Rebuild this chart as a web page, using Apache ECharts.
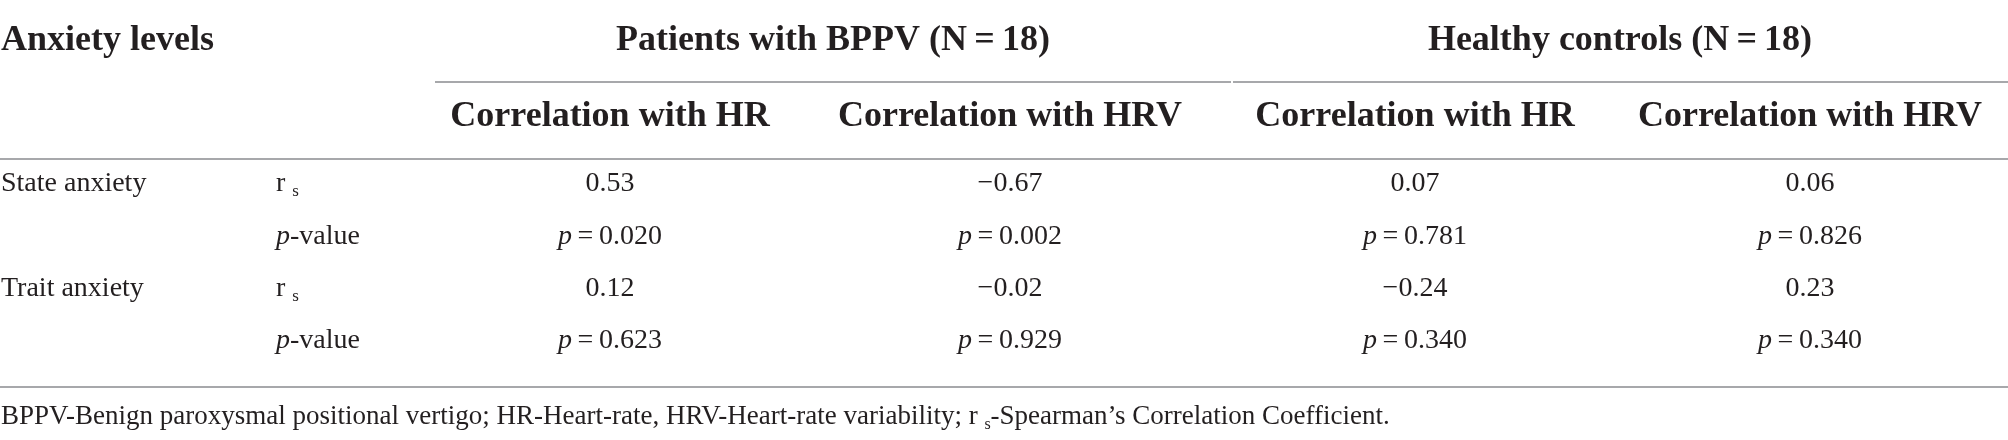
<!DOCTYPE html>
<html>
<head>
<meta charset="utf-8">
<script src="https://cdn.jsdelivr.net/npm/echarts@6/dist/echarts.min.js"></script>
<style>
  html, body { margin: 0; padding: 0; background: #fff; }
  #main { width: 2008px; height: 440px; }
</style>
</head>
<body>
<div id="main"></div>
<script>
// table content
var cornerHead = 'Anxiety levels';
var groupHeads = ['Patients with BPPV (N\u2009=\u200918)', 'Healthy controls (N\u2009=\u200918)'];
var colHeads = ['Correlation with HR', 'Correlation with HRV', 'Correlation with HR', 'Correlation with HRV'];
var measures = ['State anxiety', 'Trait anxiety'];
var stateRs = [0.53, -0.67, 0.07, 0.06];
var stateP = [0.020, 0.002, 0.781, 0.826];
var traitRs = [0.12, -0.02, -0.24, 0.23];
var traitP = [0.623, 0.929, 0.340, 0.340];
var notePre = 'BPPV-Benign paroxysmal positional vertigo; HR-Heart-rate, HRV-Heart-rate variability; r ';
var notePost = '-Spearman\u2019s Correlation Coefficient.';

// layout (axis units = px of the picture)
var W = 2008, H = 440;
var colX = [610, 1010, 1415, 1810];
var groupX = [833, 1620];
var labelX = 1, statX = 276;
var headY = 53, subY = 129, rowY = [193, 246, 298, 350], noteY = 426;
var ink = '#231f20';
var ruleColor = '#a7a8ab';
var serif = '"Liberation Serif", "Times New Roman", serif';

var ctx = document.createElement('canvas').getContext('2d');
function textWidth(str, size, weight) {
    ctx.font = (weight || 'normal') + ' ' + size + 'px ' + serif;
    return ctx.measureText(str).width;
}

function fmtR(v) {
    return (v < 0 ? '\u2212' : '') + Math.abs(v).toFixed(2);
}
function fmtP(v) {
    return '{i|p}\u2009=\u2009' + v.toFixed(3);
}

// cells: [x, baseline y] + what to write
var cells = [];
cells.push({ x: labelX, y: headY, text: cornerHead, size: 36, bold: true, align: 'left' });
groupHeads.forEach(function (g, i) {
    cells.push({ x: groupX[i], y: headY, text: g, size: 36, bold: true, align: 'center' });
});
colHeads.forEach(function (c, i) {
    cells.push({ x: colX[i], y: subY, text: c, size: 36, bold: true, align: 'center' });
});
var blocks = [[stateRs, stateP], [traitRs, traitP]];
measures.forEach(function (m, k) {
    var yR = rowY[k * 2], yP = rowY[k * 2 + 1];
    cells.push({ x: labelX, y: yR, text: m, size: 28, align: 'left' });
    cells.push({ x: statX, y: yR, text: 'r', sub: 's', size: 28, align: 'left' });
    cells.push({ x: statX, y: yP, text: '{i|p}-value', size: 28, align: 'left' });
    blocks[k][0].forEach(function (v, i) {
        cells.push({ x: colX[i], y: yR, text: fmtR(v), size: 28, align: 'center' });
    });
    blocks[k][1].forEach(function (v, i) {
        cells.push({ x: colX[i], y: yP, text: fmtP(v), size: 28, align: 'center' });
    });
});
cells.push({ x: labelX, y: noteY, text: notePre, sub: 's', post: notePost, size: 27, align: 'left' });

// rules: [x1, y, x2]
var rules = [
    [435, 82, 1231],
    [1233, 82, W],
    [0, 159, W],
    [0, 387, W]
];

function textEl(x, y, str, size, bold, align) {
    return {
        type: 'text',
        x: x,
        y: y - size * 0.34,
        style: {
            text: str,
            fill: ink,
            font: (bold ? 'bold ' : '') + size + 'px ' + serif,
            align: align,
            verticalAlign: 'middle',
            rich: {
                i: { fontStyle: 'italic', fontSize: size, fontFamily: serif, fill: ink }
            }
        }
    };
}

function renderCell(params, api) {
    var c = cells[params.dataIndex];
    var pt = api.coord([api.value(0), api.value(1)]);
    var main = textEl(pt[0], pt[1], c.text, c.size, c.bold, c.align);
    if (!c.sub) return main;
    var children = [main];
    var x = pt[0] + textWidth(c.text + (c.post ? '' : ' '), c.size);
    var subSize = Math.round(c.size * 0.6);
    children.push(textEl(x, pt[1] + 4, c.sub, subSize, false, 'left'));
    if (c.post) {
        x += textWidth(c.sub, subSize);
        children.push(textEl(x, pt[1], c.post, c.size, false, 'left'));
    }
    return { type: 'group', children: children };
}

function renderRule(params, api) {
    var a = api.coord([api.value(0), api.value(1)]);
    var b = api.coord([api.value(2), api.value(1)]);
    return {
        type: 'line',
        shape: { x1: a[0], y1: a[1], x2: b[0], y2: b[1] },
        style: { stroke: ruleColor, lineWidth: 2 }
    };
}

var myChart = echarts.init(document.getElementById('main'));

var option = {
    backgroundColor: '#fff',
    animation: false,
    grid: { left: 0, right: 0, top: 0, bottom: 0 },
    xAxis: { type: 'value', min: 0, max: W, show: false },
    yAxis: { type: 'value', min: 0, max: H, inverse: true, show: false },
    series: [
        {
            type: 'custom',
            renderItem: renderRule,
            data: rules,
            silent: true
        },
        {
            type: 'custom',
            renderItem: renderCell,
            data: cells.map(function (c) { return [c.x, c.y]; }),
            silent: true
        }
    ]
};

myChart.setOption(option);
</script>
</body>
</html>
